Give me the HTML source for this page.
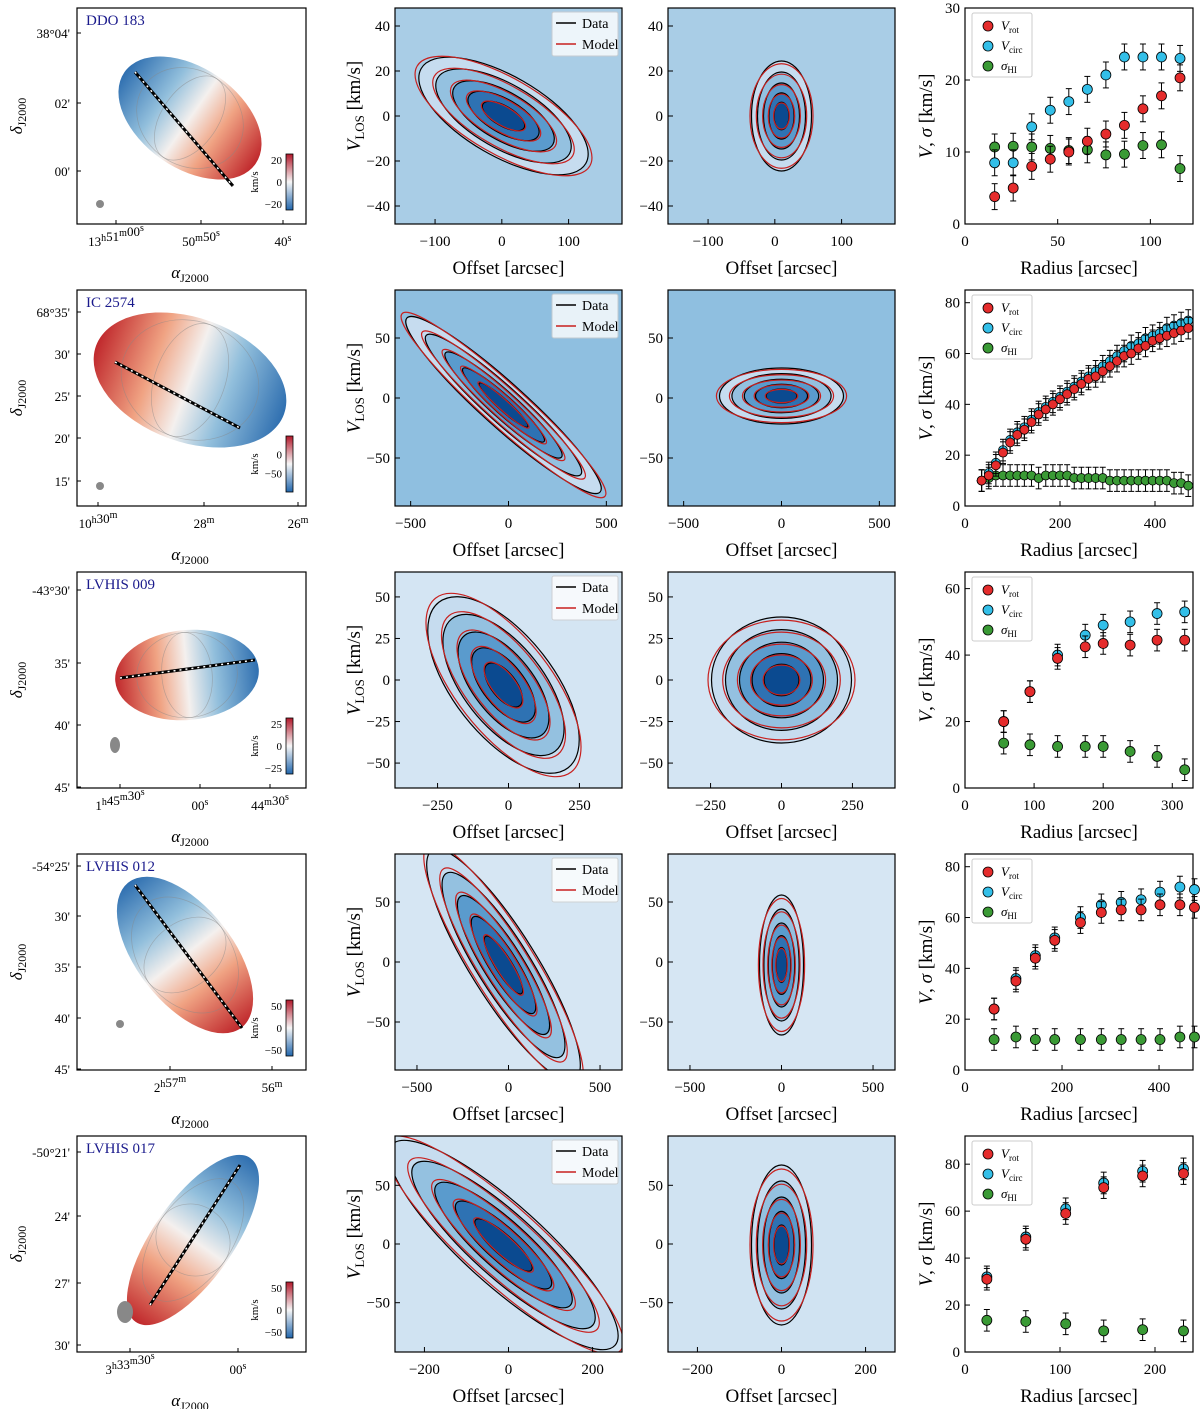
<!DOCTYPE html>
<html><head><meta charset="utf-8">
<style>
html,body{margin:0;padding:0;background:#fff;}
svg{display:block;font-family:"Liberation Serif",serif;}
</style></head>
<body>
<svg id="fig" width="1200" height="1409" viewBox="0 0 1200 1409" xmlns="http://www.w3.org/2000/svg">
<defs id="defs">
<linearGradient id="vel" x1="0" y1="0" x2="1" y2="0">
<stop offset="0" stop-color="#2f6fb0"/><stop offset="0.3" stop-color="#92bfdc"/><stop offset="0.5" stop-color="#f4f0ee"/><stop offset="0.7" stop-color="#f0a383"/><stop offset="1" stop-color="#c0282c"/>
</linearGradient>
<linearGradient id="cbar" x1="0" y1="1" x2="0" y2="0">
<stop offset="0" stop-color="#2166ac"/><stop offset="0.5" stop-color="#f7f7f7"/><stop offset="1" stop-color="#b2182b"/>
</linearGradient>
</defs>
</svg>
<script>
// ===== Rotation-curve data (per galaxy row) =====
const names = ["DDO 183","IC 2574","LVHIS 009","LVHIS 012","LVHIS 017"];
const r1 = [16,26,36,46,56,66,76,86,96,106,116];
const vrot1 = [3.8,5,8,9,10,11.5,12.5,13.7,16,17.8,20.3];
const vcirc1 = [8.5,8.5,13.5,15.8,17,18.7,20.7,23.2,23.2,23.2,23];
const sig1 = [10.7,10.8,10.7,10.5,10.2,10.3,9.6,9.7,10.9,11,7.7];
const r2 = [35,50,65,80,95,110,125,140,155,170,185,200,215,230,245,260,275,290,305,320,335,350,365,380,395,410,425,440,455,470];
const vrot2 = [10,12,16,21,25,28,30,33,36,38,40,42,44,46,48,50,51,53,55,57,59,60,62,63,65,66,67,68,69,70];
const vcirc2 = [10,13,17,22,26,29,31,34,37,39,41,43,45,47,49,51,53,55,57,59,61,63,64,66,67,68,70,71,72,73];
const sig2 = [10,11,12,12,12,12,12,12,11,12,12,12,12,11,11,11,11,11,10,10,10,10,10,10,10,10,10,9,9,8];
const r3 = [56,94,134,174,200,239,278,318];
const vrot3 = [20,29,39,42.5,43.5,43,44.5,44.5];
const vcirc3 = [20,29,40,46,49,50,52.5,53];
const sig3 = [13.5,13,12.5,12.5,12.5,11,9.5,5.5];
const r4 = [60,105,145,185,238,281,322,363,402,443,473];
const vrot4 = [24,35,44,51,58,62,63,63,65,65,64];
const vcirc4 = [24,36,45,52,60,65,66,67,70,72,71];
const sig4 = [12,13,12,12,12,12,12,12,12,13,13];
const r5 = [23,64,106,146,187,230];
const vrot5 = [31,48,59,70,75,76];
const vcirc5 = [32,49,61,72,77,78];
const sig5 = [13.5,13,12,9,9.5,9];
const rcX = [[0,123],[0,480],[0,330],[0,470],[0,240]];
const rcY = [[0,30],[0,85],[0,65],[0,85],[0,92]];
const rcXT = [[0,50,100],[0,200,400],[0,100,200,300],[0,200,400],[0,100,200]];
const rcYT = [[0,10,20,30],[0,20,40,60,80],[0,20,40,60],[0,20,40,60,80],[0,20,40,60,80]];
const pvX = [[-160,180],[-580,580],[-400,400],[-620,620],[-270,270]];
const pvY = [[-48,48],[-90,90],[-65,65],[-90,90],[-92,92]];
const pvXT = [[-100,0,100],[-500,0,500],[-250,0,250],[-500,0,500],[-200,0,200]];
const pvYT = [[-40,-20,0,20,40],[-50,0,50],[-50,-25,0,25,50],[-50,0,50],[-50,0,50]];
const mapYT = [["38°04'","02'","00'"],["68°35'","30'","25'","20'","15'"],["-43°30'","35'","40'","45'"],["-54°25'","30'","35'","40'","45'"],["-50°21'","24'","27'","30'"]];
const mapYP = [[33,103,171],[312,354,396,438,481],[590,663,725,787],[866,916,967,1018,1069],[1152,1216,1283,1345]];
const mapXT = [[["13|h|51|m|00|s",116],["50|m|50|s",201],["40|s",283]],[["10|h|30|m",98],["28|m",204],["26|m",298]],[["1|h|45|m|30|s",120],["00|s",200],["44|m|30|s",270]],[["2|h|57|m",170],["56|m",272]],[["3|h|33|m|30|s",130],["00|s",238]]];
const cbLab = [["20","0","-20"],["0","-50"],["25","0","-25"],["50","0","-50"],["50","0","-50"]];
const rcR=[r1,r2,r3,r4,r5], rcRot=[vrot1,vrot2,vrot3,vrot4,vrot5], rcCirc=[vcirc1,vcirc2,vcirc3,vcirc4,vcirc5], rcSig=[sig1,sig2,sig3,sig4,sig5];

const NS="http://www.w3.org/2000/svg";
const fig=document.getElementById('fig');
const defs=document.getElementById('defs');
function mk(tag,at,parent){const e=document.createElementNS(NS,tag);for(const k in at)e.setAttribute(k,at[k]);(parent||fig).appendChild(e);return e;}
function txt(s,x,y,size,anchor,parent){const t=mk('text',{x:x,y:y,'font-size':size,'text-anchor':anchor||'middle',fill:'#000'},parent);t.textContent=s;return t;}
let clipN=0;
function clip(x,y,w,h){const id='c'+(clipN++);const c=mk('clipPath',{id:id},defs);mk('rect',{x:x,y:y,width:w,height:h},c);return `url(#${id})`;}

const RH=282;
const mapP={x0:77,x1:306}, pv1={x0:395,x1:622}, pv2={x0:668,x1:895}, rcP={x0:965,x1:1193};
const mapPar=[
 {cx:190,cy:118,a:80,b:50,rot:35,flip:false,l:[135,72,233,186]},
 {cx:190,cy:380,a:100,b:62,rot:20,flip:true,l:[115,362,240,428]},
 {cx:187,cy:675,a:72,b:45,rot:-5,flip:true,l:[120,678,255,660]},
 {cx:185,cy:955,a:92,b:48,rot:52,flip:false,l:[135,885,242,1028]},
 {cx:193,cy:1240,a:100,b:40,rot:-55,flip:true,l:[150,1305,240,1165]}];
const pvMaj=[[0,116,95,40,30],[0,405,130,22,42],[0,685,105,50,52],[0,965,135,33,58],[0,1245,150,40,42]];
const pvMin=[[0,116,30,55,0],[0,396,62,28,0],[0,680,70,63,0],[0,965,22,70,0],[0,1245,30,80,0]];
const bgc=['#a9cde6','#8fbfe0','#d4e5f3','#d6e6f3','#d0e3f2'];

function blob(g,cx,cy,a,b,rot){
  const fills=['#c6dcef','#94c1e0','#5a9bcd','#2e72b3','#0b4a90'];
  const sc=[1,0.8,0.6,0.42,0.25];
  for(let i=0;i<5;i++){
    mk('ellipse',{cx:cx,cy:cy,rx:a*sc[i],ry:b*sc[i],transform:`rotate(${rot} ${cx} ${cy})`,fill:fills[i],stroke:'#000','stroke-width':1.2},g);
  }
  for(let i=0;i<5;i++){
    mk('ellipse',{cx:cx,cy:cy,rx:a*sc[i]*1.05,ry:b*sc[i]*0.95,transform:`rotate(${rot} ${cx} ${cy})`,fill:'none',stroke:'#c8201e','stroke-width':1.2},g);
  }
}

function pvPanel(i,P,par,legend){
  const y0=8+RH*i,y1=224+RH*i;
  const g=mk('g',{});
  
  
  const xs=v=>P.x0+(v-pvX[i][0])/(pvX[i][1]-pvX[i][0])*(P.x1-P.x0);
  const ys=v=>y1-(v-pvY[i][0])/(pvY[i][1]-pvY[i][0])*(y1-y0);
  const inner=mk('g',{'clip-path':clip(P.x0,y0,P.x1-P.x0,y1-y0)},g);
  mk('rect',{x:P.x0,y:y0,width:P.x1-P.x0,height:y1-y0,fill:bgc[i]},inner);
  blob(inner,(P.x0+P.x1)/2+(legend?-5:0),par[1],par[2],par[3],par[4]);
  mk('rect',{x:P.x0,y:y0,width:P.x1-P.x0,height:y1-y0,fill:'none',stroke:'#000','stroke-width':1.2},g);
  pvXT[i].forEach(v=>{mk('line',{x1:xs(v),x2:xs(v),y1:y1,y2:y1-5,stroke:'#000'},g);txt(String(v).replace('-','−'),xs(v),y1+22,15,'middle',g);});
  pvYT[i].forEach(v=>{mk('line',{x1:P.x0,x2:P.x0+5,y1:ys(v),y2:ys(v),stroke:'#000'},g);txt(String(v).replace('-','−'),P.x0-5,ys(v)+5,15,'end',g);});
  txt('Offset [arcsec]',(P.x0+P.x1)/2,y1+50,19,'middle',g);
  if(legend){
    const L=mk('g',{},g);
    
    
    mk('rect',{x:P.x1-70,y:y0+4,width:66,height:44,fill:'#fff',opacity:0.8,stroke:'#ccc',rx:2},L);
    mk('line',{x1:P.x1-66,x2:P.x1-46,y1:y0+15,y2:y0+15,stroke:'#000','stroke-width':1.5},L);
    txt('Data',P.x1-40,y0+20,14,'start',L);
    mk('line',{x1:P.x1-66,x2:P.x1-46,y1:y0+36,y2:y0+36,stroke:'#c8201e','stroke-width':1.5},L);
    txt('Model',P.x1-40,y0+41,14,'start',L);
    const t=txt('',370,(y0+y1)/2,19,'middle',g);
    t.setAttribute('transform',`rotate(-90 360 ${(y0+y1)/2})`);
    t.innerHTML='<tspan font-style="italic">V</tspan><tspan font-size="13" dy="4">LOS</tspan><tspan dy="-4"> [km/s]</tspan>';
  }
}

function mapPanel(i){
  const y0=8+RH*i,y1=224+RH*i,m=mapPar[i];
  const g=mk('g',{});
  
  
  mk('rect',{x:mapP.x0,y:y0,width:mapP.x1-mapP.x0,height:y1-y0,fill:'#fff'},g);
  const inner=mk('g',{'clip-path':clip(mapP.x0,y0,mapP.x1-mapP.x0,y1-y0)},g);
  const rot=m.rot+(m.flip?180:0);
  mk('ellipse',{cx:m.cx,cy:m.cy,rx:m.a,ry:m.b,transform:`rotate(${rot} ${m.cx} ${m.cy})`,fill:'url(#vel)'},inner);
  for(let k=1;k<=2;k++){
    const d=k*m.a*0.35;
    mk('ellipse',{cx:m.cx,cy:m.cy,rx:d,ry:m.b*0.95,transform:`rotate(${rot} ${m.cx} ${m.cy})`,fill:'none',stroke:'#888','stroke-width':0.7,opacity:0.5},inner);
  }
  mk('line',{x1:m.l[0],y1:m.l[1],x2:m.l[2],y2:m.l[3],stroke:'#000','stroke-width':3},inner);
  mk('line',{x1:m.l[0],y1:m.l[1],x2:m.l[2],y2:m.l[3],stroke:'#fff','stroke-width':1.5,'stroke-dasharray':'2 4'},inner);
  mk('ellipse',{cx:i==4?125:(i==2?115:(i==3?120:100)),cy:i==2?y1-43:(i==4?y1-40:(i==3?y1-46:y1-20)),rx:i==4?8:(i==2?5:4),ry:i==4?11:(i==2?8:4),fill:'#888'},inner);
  mk('rect',{x:mapP.x0,y:y0,width:mapP.x1-mapP.x0,height:y1-y0,fill:'none',stroke:'#000','stroke-width':1.2},g);
  const n=txt(names[i],86,y0+17,15,'start',g);n.setAttribute('fill','#1a1a8c');
  
  const cb=mk('g',{},g);
  
  
  const cy0=y0+146,cy1=y0+202;
  mk('rect',{x:286,y:cy0,width:7,height:cy1-cy0,fill:'url(#cbar)',stroke:'#000','stroke-width':0.8},cb);
  const lab=cbLab[i];
  lab.forEach((s,j)=>{const yy=lab.length==2?cy0+(j+1)*(cy1-cy0)/3:cy0+6+j*(cy1-cy0-12)/2;txt(s.replace('-','−'),282,yy+4,11,'end',cb);});
  const u=txt('km/s',0,0,11,'middle',cb);u.setAttribute('transform',`translate(258 ${(cy0+cy1)/2}) rotate(-90)`);
  mapYT[i].forEach((s,j)=>{const yy=mapYP[i][j];mk('line',{x1:mapP.x0,x2:mapP.x0+4,y1:yy,y2:yy,stroke:'#000'},g);txt(s,70,yy+5,13,'end',g);});
  mapXT[i].forEach(([s,xx])=>{mk('line',{x1:xx,x2:xx,y1:y1,y2:y1-4,stroke:'#000'},g);
    const t=txt('',xx,y1+22,13,'middle',g);
    const parts=s.split('|');let h='';
    parts.forEach((p,k)=>{h+= k%2? `<tspan font-size="10" dy="-5">${p}</tspan><tspan dy="5"></tspan>` : p;});
    t.innerHTML=h;});
  const a=txt('',190,y1+54,17,'middle',g);
  a.innerHTML='<tspan font-style="italic">α</tspan><tspan font-size="12" dy="4">J2000</tspan>';
  const d=txt('',0,0,17,'middle',g);
  d.setAttribute('transform',`translate(22 ${(y0+y1)/2}) rotate(-90)`);
  d.innerHTML='<tspan font-style="italic">δ</tspan><tspan font-size="12" dy="4">J2000</tspan>';
}

function rcPanel(i){
  const y0=8+RH*i,y1=224+RH*i,P=rcP;
  const g=mk('g',{});
  
  
  const xs=v=>P.x0+(v-rcX[i][0])/(rcX[i][1]-rcX[i][0])*(P.x1-P.x0);
  const ys=v=>y1-(v-rcY[i][0])/(rcY[i][1]-rcY[i][0])*(y1-y0);
  mk('rect',{x:P.x0,y:y0,width:P.x1-P.x0,height:y1-y0,fill:'#fff',stroke:'#000','stroke-width':1.2},g);
  rcXT[i].forEach(v=>{mk('line',{x1:xs(v),x2:xs(v),y1:y1,y2:y1-5,stroke:'#000'},g);txt(String(v),xs(v),y1+22,15,'middle',g);});
  rcYT[i].forEach(v=>{mk('line',{x1:P.x0,x2:P.x0+5,y1:ys(v),y2:ys(v),stroke:'#000'},g);txt(String(v),P.x0-5,ys(v)+5,15,'end',g);});
  const eb=i==0?3:2.5;
  const series=[[rcSig[i],'#3a9a35','sigma'],[rcCirc[i],'#33bfe8','vcirc'],[rcRot[i],'#e52c2c','vrot']];
  series.forEach(([arr,col,nm])=>{
    const sg=mk('g',{},g);
    
    
    arr.forEach((v,j)=>{
      const x=xs(rcR[i][j]),y=ys(v),e=(rcY[i][1]/30)*eb*0.6;
      mk('line',{x1:x,x2:x,y1:ys(v+e),y2:ys(v-e),stroke:'#000','stroke-width':1},sg);
      mk('line',{x1:x-3,x2:x+3,y1:ys(v+e),y2:ys(v+e),stroke:'#000'},sg);
      mk('line',{x1:x-3,x2:x+3,y1:ys(v-e),y2:ys(v-e),stroke:'#000'},sg);
      const c=mk('circle',{cx:x,cy:y,r:i==1?4.5:5,fill:col,stroke:'#000','stroke-width':0.8},sg);
      
    });
  });
  const L=mk('g',{},g);
  
  
  mk('rect',{x:972,y:y0+5,width:60,height:64,fill:'#fff',stroke:'#ccc',rx:2},L);
  [['#e52c2c','V','rot'],['#33bfe8','V','circ'],['#3a9a35','σ','HI']].forEach(([c,s,sub],k)=>{
    const yy=y0+18+k*20;
    mk('circle',{cx:988,cy:yy,r:5,fill:c,stroke:'#000','stroke-width':0.8},L);
    const t=txt('',1001,yy+4,13,'start',L);
    t.innerHTML=`<tspan font-style="italic">${s}</tspan><tspan font-size="9" dy="3">${sub}</tspan>`;
  });
  txt('Radius [arcsec]',(P.x0+P.x1)/2,y1+50,19,'middle',g);
  const t=txt('',0,0,19,'middle',g);
  t.setAttribute('transform',`translate(932 ${(y0+y1)/2}) rotate(-90)`);
  t.innerHTML='<tspan font-style="italic">V</tspan>, <tspan font-style="italic">σ</tspan> [km/s]';
}

for(let i=0;i<5;i++){mapPanel(i);pvPanel(i,pv1,pvMaj[i],true);pvPanel(i,pv2,pvMin[i],false);rcPanel(i);}
</script>
</body></html>
